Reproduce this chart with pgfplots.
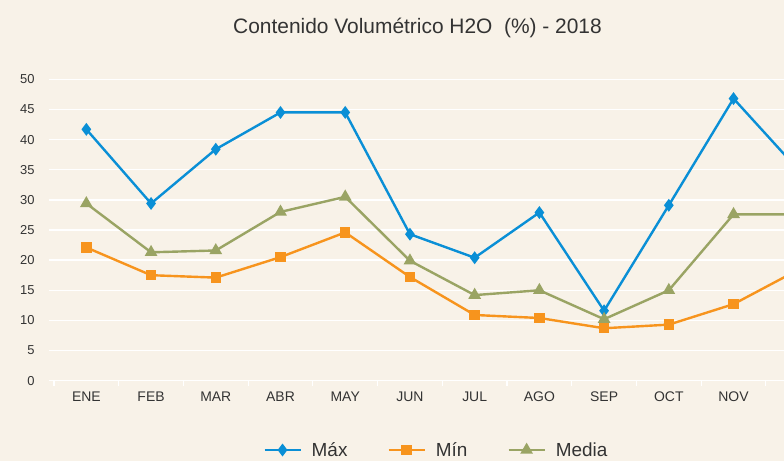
\documentclass[border=0pt]{standalone}
\usepackage{pgfplots}
\pgfplotsset{compat=1.18}
\usepackage{fontspec}
\setmainfont{Liberation Sans}
\definecolor{bg}{HTML}{F8F2E8}
\definecolor{cmax}{HTML}{0A8FD6}
\definecolor{cmin}{HTML}{F7941D}
\definecolor{cmed}{HTML}{9AA464}
\definecolor{txt}{HTML}{333333}
\begin{document}
\begin{tikzpicture}[x=1bp,y=1bp]
\fill[bg] (0,0) rectangle (784,461);
\begin{axis}[
  at={(49bp,80.3bp)}, anchor=south west,
  scale only axis, width=735bp, height=301.4bp,
  xmin=-0.577, xmax=10.78, ymin=0, ymax=50,
  clip=true,
  axis line style={draw=none},
  axis x line*=bottom,
  xtick={-0.5,0.5,...,11.5},
  x tick label as interval,
  xticklabels={ENE,FEB,MAR,ABR,MAY,JUN,JUL,AGO,SEP,OCT,NOV,DIC},
  x tick style={draw=white, line width=1.2bp},
  major tick length=5bp,
  tick align=outside,
  ytick={0,5,...,50},
  y tick style={draw=none},
  ymajorgrids,
  grid style={white, line width=1.5bp},
  every tick label/.append style={text=txt},
  xticklabel style={font=\fontsize{14}{16}\selectfont, yshift=-3bp},
  yticklabel style={font=\fontsize{13}{15}\selectfont, xshift=-6bp},
  /pgf/number format/assume math mode=true,
  legend columns=3,
  legend style={draw=none, fill=none, at={(axis description cs:0.527,-0.23)}, anchor=center,
    font=\fontsize{19}{21}\selectfont, text=txt,
    /tikz/every even column/.append style={column sep=38bp}},
  legend image code/.code={
    \draw[#1, mark=none] (0bp,0bp) -- (36bp,0bp);
    \draw[#1, only marks] plot coordinates {(18bp,0bp)};
    \path (44bp,0bp);
  },
  every axis plot/.append style={line width=2.4bp},
]
\addplot[cmax, mark=diamond*, mark size=4.5bp, mark options={fill=cmax}] coordinates {
(0,41.7) (1,29.4) (2,38.4) (3,44.5) (4,44.5) (5,24.3) (6,20.4) (7,27.9) (8,11.6) (9,29.1) (10,46.8) (11,35.0)};
\addlegendentry{Máx}
\addplot[cmin, mark=square*, mark size=4bp, mark options={fill=cmin}] coordinates {
(0,22.1) (1,17.5) (2,17.1) (3,20.5) (4,24.6) (5,17.2) (6,10.9) (7,10.4) (8,8.7) (9,9.3) (10,12.7) (11,18.4)};
\addlegendentry{Mín}
\addplot[cmed, mark=triangle*, mark size=5bp, mark options={fill=cmed}] coordinates {
(0,29.4) (1,21.3) (2,21.6) (3,28.0) (4,30.5) (5,19.9) (6,14.2) (7,15.0) (8,10.2) (9,15.0) (10,27.6) (11,27.6)};
\addlegendentry{Media}
\end{axis}
\node[text=txt, font=\fontsize{21}{24}\selectfont] at (417.5,433) {Contenido Volumétrico H2O\ \ (\%) - 2018};
\pgfresetboundingbox
\path (0,0) rectangle (784,461);
\end{tikzpicture}
\end{document}
